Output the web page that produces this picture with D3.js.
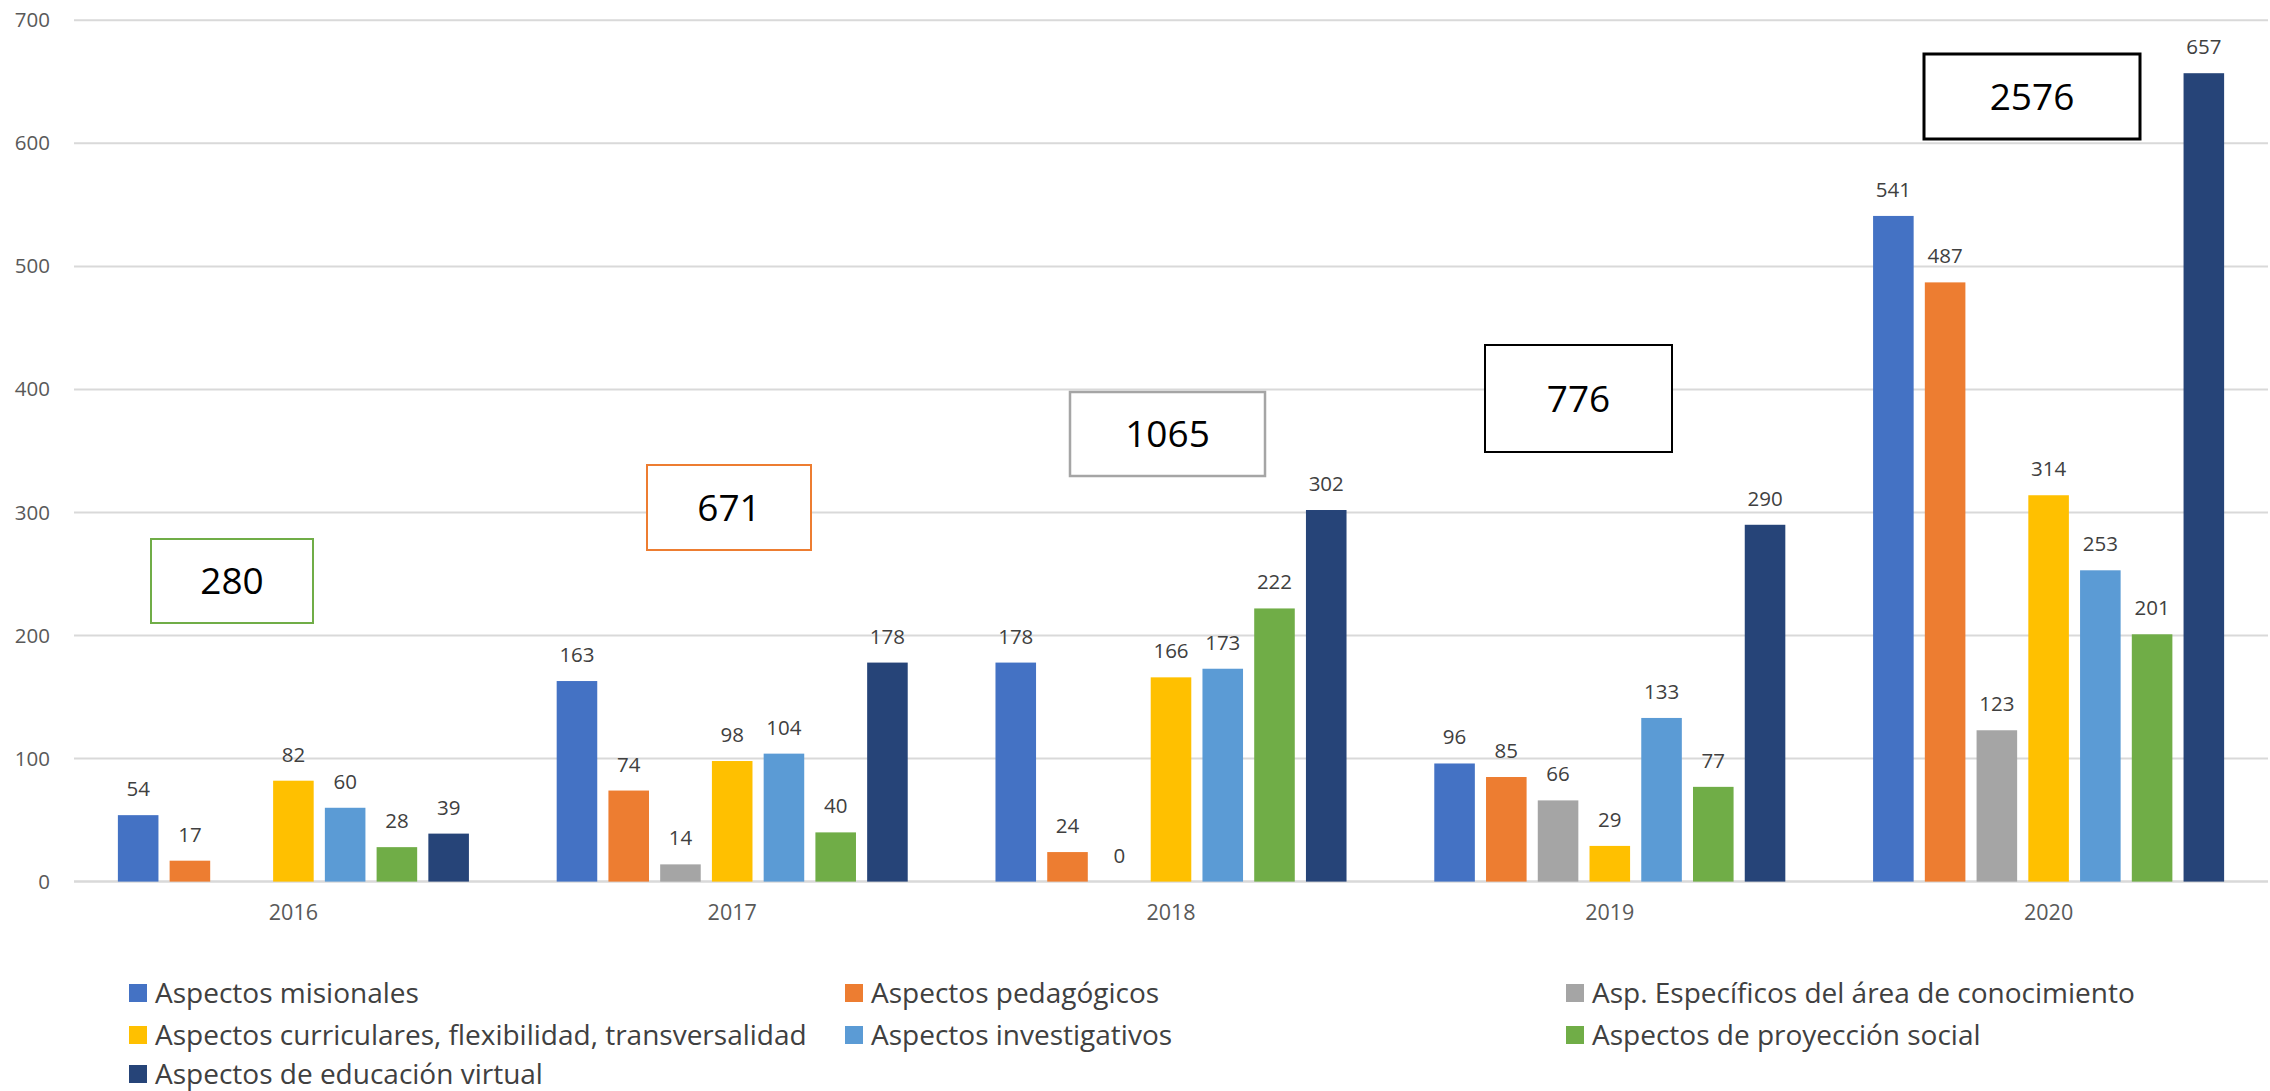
<!DOCTYPE html>
<html>
<head>
<meta charset="utf-8">
<script src="https://cdn.jsdelivr.net/npm/d3@7/dist/d3.min.js"></script>
<style>
  html, body { margin: 0; padding: 0; background: #fff; }
  svg { display: block; }
  text { font-family: "Open Sans", "Noto Sans", sans-serif; }
</style>
</head>
<body>
<svg id="chart" width="2270" height="1091"></svg>
<script>
// ---- data ----
const years = ["2016", "2017", "2018", "2019", "2020"];
const seriesNames = [
  "Aspectos misionales",
  "Aspectos pedagógicos",
  "Asp. Específicos del área de conocimiento",
  "Aspectos curriculares, flexibilidad, transversalidad",
  "Aspectos investigativos",
  "Aspectos de proyección social",
  "Aspectos de educación virtual"
];
const misionales     = [54, 163, 178, 96, 541];
const pedagogicos    = [17, 74, 24, 85, 487];
const especificos    = [null, 14, 0, 66, 123];
const curriculares   = [82, 98, 166, 29, 314];
const investigativos = [60, 104, 173, 133, 253];
const proyeccion     = [28, 40, 222, 77, 201];
const virtual        = [39, 178, 302, 290, 657];
const yearTotals     = [280, 671, 1065, 776, 2576];
const yTicks         = [0, 100, 200, 300, 400, 500, 600, 700];

// ---- styles / layout ----
const colors = ["#4472C4", "#ED7D31", "#A5A5A5", "#FFC000", "#5B9BD5", "#70AD47", "#264478"];
const totalBoxes = [ // pixel layout of the free-floating text boxes
  { x0: 151, x1: 313, y0: 539, y1: 623, stroke: "#70AD47", sw: 2 },
  { x0: 647, x1: 811, y0: 465, y1: 550, stroke: "#ED7D31", sw: 2 },
  { x0: 1070, x1: 1265, y0: 392, y1: 476, stroke: "#A5A5A5", sw: 2.5 },
  { x0: 1485, x1: 1672, y0: 345, y1: 452, stroke: "#000000", sw: 2 },
  { x0: 1924, x1: 2140, y0: 54, y1: 139, stroke: "#000000", sw: 3 }
];

const allSeries = [misionales, pedagogicos, especificos, curriculares, investigativos, proyeccion, virtual];
const rows = [];
years.forEach((yr, i) => {
  allSeries.forEach((s, j) => {
    rows.push({ year: yr, series: seriesNames[j], idx: j, value: s[i] });
  });
});

const svg = d3.select("#chart");
const plotLeft = 74, plotRight = 2268;
const x0 = d3.scaleBand().domain(years).range([plotLeft, plotRight]).paddingInner(0.2).paddingOuter(0.1);
const x1 = d3.scaleBand().domain(seriesNames).range([0, x0.bandwidth()]).paddingInner(0.216).paddingOuter(0);
const y = d3.scaleLinear().domain([0, 700]).range([881.6, 20.3]);

// gridlines
const grid = svg.append("g");
grid.selectAll("line").data(yTicks).join("line")
  .attr("x1", plotLeft).attr("x2", plotRight)
  .attr("y1", d => y(d)).attr("y2", d => y(d))
  .attr("stroke", "#D9D9D9").attr("stroke-width", d => d === 0 ? 2.5 : 2);

// y axis labels
const yAxis = d3.axisLeft(y).tickValues(yTicks).tickSize(0).tickPadding(0);
const yg = svg.append("g").attr("transform", "translate(50,0)").call(yAxis);
yg.select(".domain").remove();
yg.selectAll("text").attr("font-family", "'Open Sans', sans-serif").attr("font-size", 20.5).attr("fill", "#595959");

// x axis labels
const xAxis = d3.axisBottom(x0).tickSize(0).tickPadding(0);
const xg = svg.append("g").attr("transform", "translate(0,905)").call(xAxis);
xg.select(".domain").remove();
xg.selectAll("text").attr("font-family", "'Open Sans', sans-serif").attr("font-size", 21.5).attr("fill", "#595959");

// bars
const bars = svg.append("g");
bars.selectAll("rect").data(rows.filter(d => d.value !== null)).join("rect")
  .attr("x", d => x0(d.year) + x1(d.series))
  .attr("width", x1.bandwidth())
  .attr("y", d => y(d.value))
  .attr("height", d => y(0) - y(d.value))
  .attr("fill", d => colors[d.idx]);

// data labels
bars.selectAll("text").data(rows.filter(d => d.value !== null)).join("text")
  .attr("x", d => x0(d.year) + x1(d.series) + x1.bandwidth() / 2)
  .attr("y", d => y(d.value) - 19)
  .attr("text-anchor", "middle")
  .attr("font-size", 20.5)
  .attr("fill", "#404040")
  .text(d => d.value);

// total boxes
const tb = svg.append("g").selectAll("g").data(totalBoxes).join("g");
tb.append("rect")
  .attr("x", d => d.x0).attr("y", d => d.y0)
  .attr("width", d => d.x1 - d.x0).attr("height", d => d.y1 - d.y0)
  .attr("fill", "#fff").attr("stroke", d => d.stroke).attr("stroke-width", d => d.sw);
tb.append("text")
  .attr("x", d => (d.x0 + d.x1) / 2).attr("y", d => (d.y0 + d.y1) / 2)
  .attr("dy", "0.36em")
  .attr("text-anchor", "middle")
  .attr("font-size", 37)
  .attr("fill", "#000")
  .text((d, i) => yearTotals[i]);

// legend
const legendPos = [
  [129, 993], [845, 993], [1566, 993],
  [129, 1035], [845, 1035], [1566, 1035],
  [129, 1074]
];
const lg = svg.append("g").selectAll("g").data(seriesNames).join("g")
  .attr("transform", (d, i) => `translate(${legendPos[i][0]},${legendPos[i][1]})`);
lg.append("rect").attr("x", 0).attr("y", -9).attr("width", 18).attr("height", 18)
  .attr("fill", (d, i) => colors[i]);
lg.append("text").attr("x", 26).attr("y", 0).attr("dy", "0.36em")
  .attr("font-size", 28).attr("fill", "#404040")
  .text(d => d);
</script>
</body>
</html>
